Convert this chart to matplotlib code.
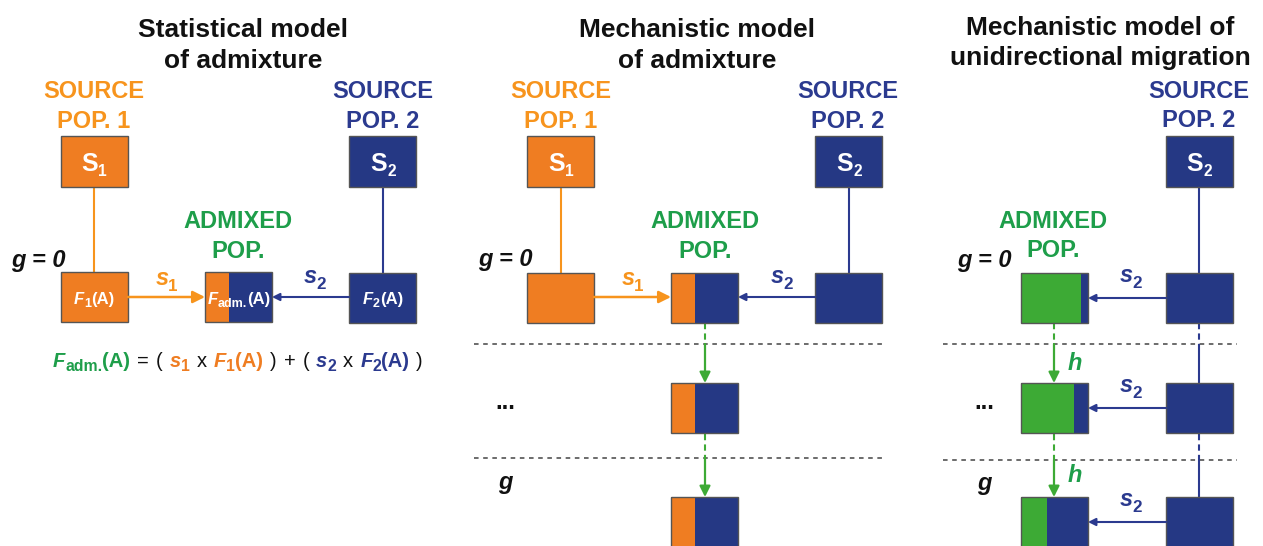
import matplotlib
matplotlib.use('Agg')
import matplotlib.pyplot as plt
from matplotlib.patches import Rectangle

plt.rcParams['font.family'] = ['Liberation Sans', 'DejaVu Sans']

# ---------------- content ----------------
panel_titles = ["Statistical model\nof admixture",
                "Mechanistic model\nof admixture",
                "Mechanistic model of\nunidirectional migration"]
source_labels = ["SOURCE\nPOP. 1", "SOURCE\nPOP. 2"]
admixed_label = "ADMIXED\nPOP."
row_labels = ["g = 0", "...", "g"]
stat_s1_fraction = 0.36                 # orange share of admixed box (statistical model)
mech_s1_fraction = [0.36, 0.36, 0.36]   # orange share per generation (mechanistic admixture)
migr_h_fraction = [0.90, 0.79, 0.39]    # green share per generation (unidirectional migration)

# ---------------- style ----------------
ORANGE = '#EF7D22'
ORANGE_T = '#F7941D'
BLUE = '#253884'
BLUE_T = '#2B3A8F'
GREEN = '#3DAA35'
GREEN_T = '#1E9E4A'
EDGE = '#555555'
WHITE = 'white'
BLACK = '#111111'

fig = plt.figure(figsize=(12.63, 5.46), dpi=100)
ax = fig.add_axes([0, 0, 1, 1])
ax.set_xlim(0, 1263)
ax.set_ylim(546, 0)
ax.axis('off')
renderer = fig.canvas.get_renderer()

BW, BH = 67, 50
ROW_Y = [273, 383, 497]


def box(x0, y0, c1, frac=None, c2=None, h=BH):
    if frac is None:
        ax.add_patch(Rectangle((x0, y0), BW, h, facecolor=c1, edgecolor=EDGE, lw=1.0, zorder=3))
    else:
        ax.add_patch(Rectangle((x0, y0), BW * frac, h, facecolor=c1, edgecolor='none', zorder=3))
        ax.add_patch(Rectangle((x0 + BW * frac, y0), BW * (1 - frac), h, facecolor=c2, edgecolor='none', zorder=3))
        ax.add_patch(Rectangle((x0, y0), BW, h, facecolor='none', edgecolor=EDGE, lw=1.0, zorder=4))


def seq(x, y, pieces, size, ha='left', subscale=0.68, subdy=None):
    arts = []
    cx = x
    if subdy is None:
        subdy = size * 0.28
    for p in pieces:
        if isinstance(p, (int, float)):
            cx += p
            continue
        s, color, style, sub = p
        fs = size * subscale if sub else size
        dy = subdy if sub else 0
        t = ax.text(cx, y + dy, s, color=color, fontsize=fs,
                    fontweight='bold' if 'b' in style else 'normal',
                    fontstyle='italic' if 'i' in style else 'normal',
                    ha='left', va='baseline', zorder=6)
        bb = t.get_window_extent(renderer)
        cx += bb.width
        arts.append(t)
    total = cx - x
    if ha == 'center':
        for t in arts:
            px, py = t.get_position()
            t.set_x(px - total / 2)
    return total


def two_lines(x, y1, y2, text, color, size):
    l1, l2 = text.split('\n')
    ax.text(x, y1, l1, color=color, fontsize=size, fontweight='bold', ha='center', va='baseline')
    ax.text(x, y2, l2, color=color, fontsize=size, fontweight='bold', ha='center', va='baseline')


def arrow(x0, y0, x1, y1, color, lw=1.6, ms=16, head='-|>'):
    ax.annotate('', xy=(x1, y1), xytext=(x0, y0),
                arrowprops=dict(arrowstyle=head, color=color, lw=lw, mutation_scale=ms,
                                shrinkA=0, shrinkB=0), zorder=5)


def vline(x, y0, y1, color, lw=1.5, ls='-'):
    ax.plot([x, x], [y0, y1], color=color, lw=lw, ls=ls, zorder=2, solid_capstyle='butt')


def hdots(x0, x1, y):
    ax.plot([x0, x1], [y, y], color='#444444', lw=1.1, ls=(0, (3, 3)), zorder=1)


def s_label(x, y, sym, idx, color):
    seq(x, y, [(sym, color, 'bi', False), -1, (idx, color, 'b', True)], 17, subscale=0.72, subdy=6)


def g_label(x, y, text, italic=True):
    ax.text(x, y, text, color=BLACK, fontsize=17, fontweight='bold',
            fontstyle='italic' if italic else 'normal', ha='center', va='baseline')


# ---------------- titles ----------------
two_lines(243, 37, 68, panel_titles[0], BLACK, 19)
two_lines(697, 37, 68, panel_titles[1], BLACK, 19)
two_lines(1100, 35, 65, panel_titles[2], BLACK, 19)

# ---------------- panel 1 : statistical model ----------------
two_lines(94, 98, 128, source_labels[0], ORANGE_T, 17)
two_lines(383, 98, 128, source_labels[1], BLUE_T, 17)
box(61, 136, ORANGE, h=51)
box(349, 136, BLUE, h=51)
seq(94, 171, [('S', WHITE, 'b', False), ('1', WHITE, 'b', True)], 18, ha='center', subscale=0.62, subdy=5)
seq(383, 171, [('S', WHITE, 'b', False), ('2', WHITE, 'b', True)], 18, ha='center', subscale=0.62, subdy=5)
vline(94, 187, 272, ORANGE_T)
vline(383, 187, 273, BLUE_T)
two_lines(238, 228, 258, admixed_label, GREEN_T, 17)
g_label(38, 267, row_labels[0])
box(61, 272, ORANGE)
box(205, 272, ORANGE, stat_s1_fraction, BLUE)
box(349, 273, BLUE)
seq(94, 304, [('F', WHITE, 'bi', False), ('1', WHITE, 'b', True), ('(A)', WHITE, 'b', False)], 12, ha='center', subscale=0.75)
seq(239, 304, [('F', WHITE, 'bi', False), ('adm.', WHITE, 'b', True), ('(A)', WHITE, 'b', False)], 12, ha='center', subscale=0.75)
seq(383, 304, [('F', WHITE, 'bi', False), ('2', WHITE, 'b', True), ('(A)', WHITE, 'b', False)], 12, ha='center', subscale=0.75)
arrow(128, 297, 205, 297, ORANGE_T, lw=1.8, ms=18)
arrow(349, 297, 272, 297, BLUE_T, lw=1.5, ms=11)
s_label(156, 285, 's', '1', ORANGE_T)
s_label(304, 283, 's', '2', BLUE_T)

# formula
FS = 14.5
G = 7
seq(238, 367, [
    ('F', GREEN_T, 'bi', False), ('adm.', GREEN_T, 'b', True), ('(A)', GREEN_T, 'b', False), G,
    ('=', BLACK, 'n', False), G, ('(', BLACK, 'n', False), G,
    ('s', ORANGE, 'bi', False), ('1', ORANGE, 'b', True), G, ('x', BLACK, 'n', False), G,
    ('F', ORANGE, 'bi', False), ('1', ORANGE, 'b', True), ('(A)', ORANGE, 'b', False), G,
    (')', BLACK, 'n', False), G, ('+', BLACK, 'n', False), G, ('(', BLACK, 'n', False), G,
    ('s', BLUE_T, 'bi', False), ('2', BLUE_T, 'b', True), G, ('x', BLACK, 'n', False), G,
    ('F', BLUE_T, 'bi', False), ('2', BLUE_T, 'b', True), ('(A)', BLUE_T, 'b', False), G,
    (')', BLACK, 'n', False)], FS, ha='center', subscale=0.78, subdy=4)

# ---------------- panel 2 : mechanistic admixture ----------------
two_lines(561, 98, 128, source_labels[0], ORANGE_T, 17)
two_lines(848, 98, 128, source_labels[1], BLUE_T, 17)
box(527, 136, ORANGE, h=51)
box(815, 136, BLUE, h=51)
seq(561, 171, [('S', WHITE, 'b', False), ('1', WHITE, 'b', True)], 18, ha='center', subscale=0.62, subdy=5)
seq(849, 171, [('S', WHITE, 'b', False), ('2', WHITE, 'b', True)], 18, ha='center', subscale=0.62, subdy=5)
vline(561, 187, 273, ORANGE_T)
vline(849, 187, 273, BLUE_T)
two_lines(705, 228, 258, admixed_label, GREEN_T, 17)
box(527, 273, ORANGE)
box(815, 273, BLUE)
for ry, fr in zip(ROW_Y, mech_s1_fraction):
    box(671, ry, ORANGE, fr, BLUE, h=BH if ry < 490 else 51)
arrow(594, 297, 671, 297, ORANGE_T, lw=1.8, ms=18)
arrow(815, 297, 738, 297, BLUE_T, lw=1.5, ms=11)
s_label(622, 285, 's', '1', ORANGE_T)
s_label(771, 283, 's', '2', BLUE_T)
hdots(474, 883, 344)
hdots(474, 883, 458)
vline(705, 323, 344, GREEN, lw=1.5, ls=(0, (3, 2)))
arrow(705, 344, 705, 383, GREEN, lw=1.6, ms=16)
vline(705, 434, 458, GREEN, lw=1.5, ls=(0, (3, 2)))
arrow(705, 458, 705, 497, GREEN, lw=1.6, ms=16)
g_label(505, 266, row_labels[0])
g_label(505, 409, row_labels[1], italic=False)
g_label(505, 489, row_labels[2])

# ---------------- panel 3 : unidirectional migration ----------------
two_lines(1199, 98, 127, source_labels[1], BLUE_T, 17)
box(1166, 136, BLUE, h=51)
seq(1199, 171, [('S', WHITE, 'b', False), ('2', WHITE, 'b', True)], 18, ha='center', subscale=0.62, subdy=5)
two_lines(1053, 228, 257, admixed_label, GREEN_T, 17)
vline(1199, 187, 273, BLUE_T)
vline(1199, 323, 344, BLUE_T, ls=(0, (3, 2)))
vline(1199, 344, 383, BLUE_T)
vline(1199, 434, 460, BLUE_T, ls=(0, (3, 2)))
vline(1199, 460, 497, BLUE_T)
for ry, fr in zip(ROW_Y, migr_h_fraction):
    h = BH if ry < 490 else 51
    box(1021, ry, GREEN, fr, BLUE, h=h)
    box(1166, ry, BLUE, h=h)
    arrow(1166, ry + 25, 1088, ry + 25, BLUE_T, lw=1.5, ms=11)
    s_label(1120, ry + 9, 's', '2', BLUE_T)
hdots(943, 1237, 344)
hdots(943, 1237, 460)
vline(1054, 323, 344, GREEN, lw=1.5, ls=(0, (3, 2)))
arrow(1054, 344, 1054, 383, GREEN, lw=1.6, ms=16)
vline(1054, 434, 460, GREEN, lw=1.5, ls=(0, (3, 2)))
arrow(1054, 460, 1054, 497, GREEN, lw=1.6, ms=16)
ax.text(1068, 370, 'h', color=GREEN_T, fontsize=17, fontweight='bold', fontstyle='italic', ha='left', va='baseline')
ax.text(1068, 482, 'h', color=GREEN_T, fontsize=17, fontweight='bold', fontstyle='italic', ha='left', va='baseline')
g_label(984, 267, row_labels[0])
g_label(984, 409, row_labels[1], italic=False)
g_label(984, 490, row_labels[2])

fig.savefig('out.png', dpi=100)
